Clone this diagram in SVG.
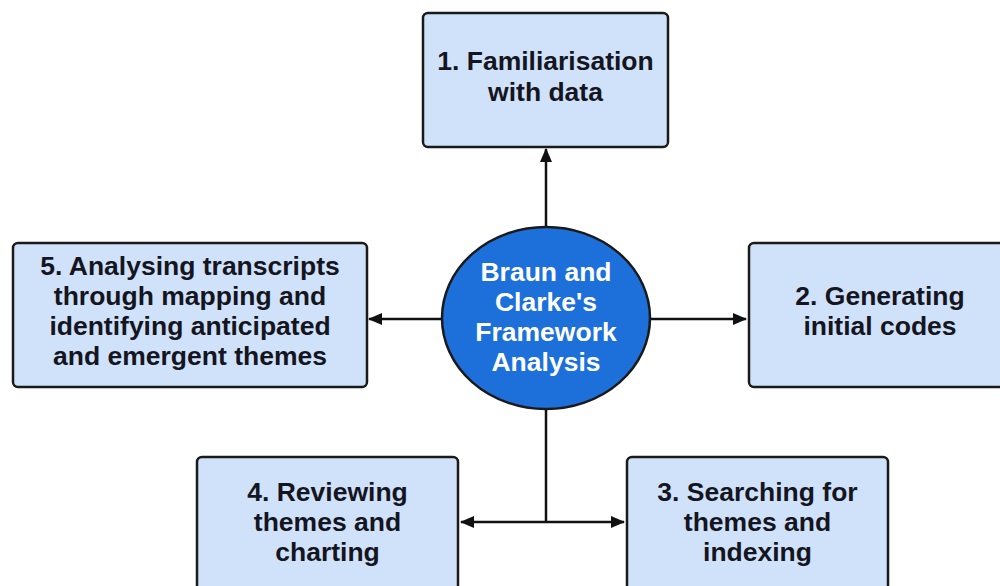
<svg xmlns="http://www.w3.org/2000/svg" width="1000" height="586" viewBox="0 0 1000 586">
<defs>
<marker id="arr" viewBox="0 0 14 12" refX="13" refY="6" markerWidth="14" markerHeight="12" markerUnits="userSpaceOnUse" orient="auto-start-reverse">
<path d="M0,0 L14,6 L0,12 Z" fill="#111"/>
</marker>
<style>
.box{fill:#cfe2fa;stroke:#1a1a1a;stroke-width:2.5}
.lbl{font-family:"Liberation Sans",Arial,sans-serif;font-weight:bold;font-size:26.5px;fill:#15151f;text-anchor:middle}
.wht{fill:#ffffff}
.con{fill:none;stroke:#111;stroke-width:2.5}
</style>
</defs>
<rect width="1000" height="586" fill="#ffffff"/>
<g id="connectors">
<line class="con" x1="546" y1="227" x2="546" y2="149" marker-end="url(#arr)"/>
<line class="con" x1="651" y1="319" x2="746" y2="319" marker-end="url(#arr)"/>
<line class="con" x1="442" y1="319" x2="369" y2="319" marker-end="url(#arr)"/>
<line class="con" x1="546" y1="409" x2="546" y2="522"/>
<line class="con" x1="461" y1="522" x2="624" y2="522" marker-start="url(#arr)" marker-end="url(#arr)"/>
</g>
<g id="node1">
<rect class="box" x="423" y="13" width="245" height="134" rx="5"/>
<text class="lbl" x="545.5" y="70">1. Familiarisation</text>
<text class="lbl" x="545.5" y="101">with data</text>
</g>
<g id="center">
<ellipse cx="546" cy="318" rx="104" ry="91" fill="#1d6fda" stroke="#1a1a1a" stroke-width="2.5"/>
<text class="lbl wht" x="546" y="281">Braun and</text>
<text class="lbl wht" x="546" y="311">Clarke's</text>
<text class="lbl wht" x="546" y="341">Framework</text>
<text class="lbl wht" x="546" y="371">Analysis</text>
</g>
<g id="node2">
<rect class="box" x="749" y="243" width="262" height="144" rx="5"/>
<text class="lbl" x="880" y="305">2. Generating</text>
<text class="lbl" x="880" y="335">initial codes</text>
</g>
<g id="node5">
<rect class="box" x="13" y="243" width="354" height="144" rx="5"/>
<text class="lbl" x="190" y="275">5. Analysing transcripts</text>
<text class="lbl" x="190" y="305">through mapping and</text>
<text class="lbl" x="190" y="335">identifying anticipated</text>
<text class="lbl" x="190" y="365">and emergent themes</text>
</g>
<g id="node4">
<rect class="box" x="197" y="457" width="261" height="144" rx="5"/>
<text class="lbl" x="327.5" y="501">4. Reviewing</text>
<text class="lbl" x="327.5" y="531">themes and</text>
<text class="lbl" x="327.5" y="561">charting</text>
</g>
<g id="node3">
<rect class="box" x="627" y="457" width="261" height="144" rx="5"/>
<text class="lbl" x="757.5" y="501">3. Searching for</text>
<text class="lbl" x="757.5" y="531">themes and</text>
<text class="lbl" x="757.5" y="561">indexing</text>
</g>
</svg>
